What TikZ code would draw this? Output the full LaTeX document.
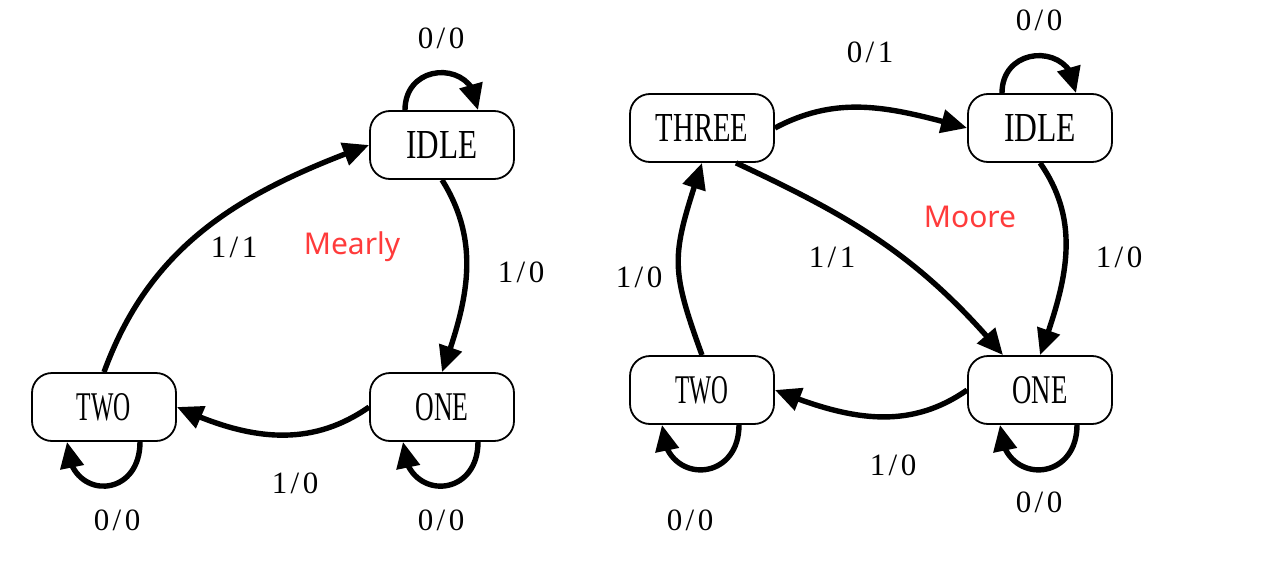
\documentclass[tikz,border=0pt]{standalone}
\usepackage{fontspec}
\setmainfont{Liberation Serif}
\newfontfamily\tagfont{Noto Sans}
\usetikzlibrary{arrows.meta,bending}
\definecolor{tagred}{HTML}{FF3B3B}
\newcommand\stxt[2]{\resizebox{#1pt}{27pt}{#2}}
\newcommand\lab[2]{{\fontsize{31}{31}\selectfont #1\makebox[0.5em]{/}#2}}
\begin{document}
\begin{tikzpicture}[x=1pt,y=1pt,
 state/.style={draw,line width=1.8pt,rounded corners=20pt,minimum width=144pt,minimum height=68pt,inner sep=0pt},
 arr/.style={line width=5.4pt,-{Triangle[length=26pt,width=23pt]}},
 lbl/.style={inner sep=0pt},
 tag/.style={text=tagred,font=\tagfont\fontsize{30}{30}\selectfont,inner sep=0pt}]
\useasboundingbox (0,0) rectangle (1267,-570);
% left machine
\node[state] (idleA) at (442,-145) {\stxt{71}{IDLE}};
\node[state] (oneA) at (442,-407) {\stxt{53}{ONE}};
\node[state] (twoA) at (104,-407) {\stxt{54}{TWO}};
% right machine
\node[state] (threeB) at (702,-128) {\stxt{92}{THREE}};
\node[state] (idleB) at (1040,-128) {\stxt{72}{IDLE}};
\node[state] (twoB) at (702,-390) {\stxt{53}{TWO}};
\node[state] (oneB) at (1040,-390) {\stxt{55}{ONE}};
% left edges
\draw[arr] ([xshift=-37pt]idleA.north) .. controls +(0,50) and +(0,50) .. ([xshift=36pt]idleA.north);
\draw[arr] ([xshift=36pt]twoA.south) .. controls +(0,-59) and +(0,-59) .. ([xshift=-37pt]twoA.south);
\draw[arr] ([xshift=36pt]oneA.south) .. controls +(0,-59) and +(0,-59) .. ([xshift=-39pt]oneA.south);
\draw[arr] (twoA.north) to[out=70,in=200] (idleA.west);
\draw[arr] (idleA.south) to[out=-58,in=70] (oneA.north);
\draw[arr] (oneA.west) to[out=215,in=-25] (twoA.east);
% right edges
\draw[arr] ([xshift=-38pt]idleB.north) .. controls +(0,50) and +(0,50) .. ([xshift=36pt]idleB.north);
\draw[arr] ([xshift=37pt]twoB.south) .. controls +(0,-60) and +(0,-60) .. ([xshift=-40pt]twoB.south);
\draw[arr] ([xshift=37pt]oneB.south) .. controls +(0,-60) and +(0,-60) .. ([xshift=-40pt]oneB.south);
\draw[arr] (threeB.east) to[out=28,in=165] (idleB.west);
\draw[arr] ([xshift=34pt]threeB.south) to[out=-25,in=130] ([xshift=-37pt]oneB.north);
\draw[arr] (idleB.south) to[out=-55,in=70] (oneB.north);
\draw[arr] (oneB.west) to[out=215,in=-22] (twoB.east);
\draw[arr] (twoB.north) to[out=110,in=252,looseness=1.3] (threeB.south);
% labels
\node[lbl] (l1) at (441,-38) {\lab00};
\node[lbl] (l2) at (117,-520) {\lab00};
\node[lbl] (l3) at (441,-520) {\lab00};
\node[lbl] (l4) at (234,-247) {\lab11};
\node[lbl] (l5) at (521,-272) {\lab10};
\node[lbl] (l6) at (295,-483) {\lab10};
\node[lbl] (r1) at (1039,-20) {\lab00};
\node[lbl] (r2) at (690,-520) {\lab00};
\node[lbl] (r3) at (1039,-502) {\lab00};
\node[lbl] (r4) at (870,-52) {\lab01};
\node[lbl] (r5) at (832,-257) {\lab11};
\node[lbl] (r6) at (1119,-257) {\lab10};
\node[lbl] (r7) at (893,-465) {\lab10};
\node[lbl] (r8) at (639,-277) {\lab10};
\node[tag] (mearly) at (352,-247) {Mearly};
\node[tag] (moore) at (970,-217) {Moore};
\end{tikzpicture}
\end{document}
